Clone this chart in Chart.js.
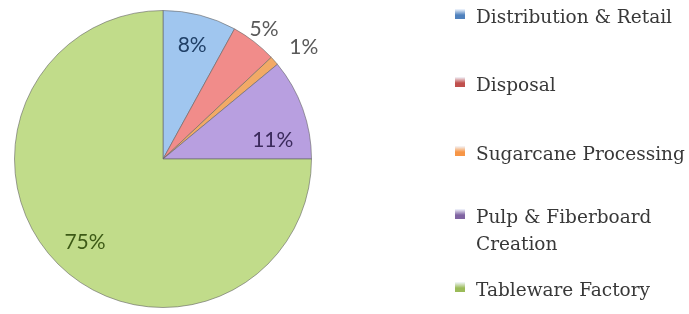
<!DOCTYPE html>
<html><head><meta charset="utf-8">
<script src="https://cdn.jsdelivr.net/npm/chart.js@4"></script>
<style>html,body{margin:0;padding:0;background:#fff}#wrap{width:689px;height:314px;position:relative}</style>
</head><body><div id="wrap"><canvas id="c" width="689" height="314"></canvas></div>
<script>
const categories = ["Distribution & Retail", "Disposal", "Sugarcane Processing", ["Pulp & Fiberboard", "Creation"], "Tableware Factory"];
const values = [8, 5, 1, 11, 75];
const percentLabels = ["8%", "5%", "1%", "11%", "75%"];
const colors = ["#a0c6ef", "#f18c8a", "#f2aa66", "#b89fe0", "#c1dc8a"];
const legendMarks = ["#4f81bd", "#c0504d", "#f79646", "#8064a2", "#9bbb59"];
const labelColors = ["#1f3f66", "#595959", "#595959", "#3b2a5c", "#3d5a16"];
const labelRadius = [0.79, 1.11, 1.21, 0.75, 0.77];
const labelAngleShift = [0, 0, 3, 10, -2];

const labelPlugin = {
  id: 'pctLabels',
  afterDatasetsDraw(chart) {
    const ctx = chart.ctx;
    const meta = chart.getDatasetMeta(0);
    ctx.save();
    ctx.font = '21px Lato';
    ctx.textAlign = 'center';
    ctx.textBaseline = 'middle';
    meta.data.forEach((arc, i) => {
      const mid = (arc.startAngle + arc.endAngle) / 2 + labelAngleShift[i] * Math.PI / 180;
      const r = arc.outerRadius * labelRadius[i];
      ctx.fillStyle = labelColors[i];
      ctx.fillText(percentLabels[i], arc.x + Math.cos(mid) * r, arc.y + Math.sin(mid) * r);
    });
    // legend
    const lx = 455, tx = 476;
    const rows = [18, 86, 155, 218, 291];
    ctx.textAlign = 'left';
    ctx.font = '18.5px "DejaVu Serif"';
    categories.forEach((c, i) => {
      const y = rows[i];
      const g = ctx.createLinearGradient(lx, y - 9, lx, y + 1);
      g.addColorStop(0, '#f4f8ff');
      g.addColorStop(0.6, legendMarks[i]);
      g.addColorStop(1, legendMarks[i]);
      ctx.fillStyle = g;
      ctx.fillRect(lx, y - 9, 10, 10);
      ctx.fillStyle = '#383838';
      const lines = Array.isArray(c) ? c : [c];
      lines.forEach((t, j) => ctx.fillText(t, tx, y + j * 27));
    });
    ctx.restore();
  }
};

new Chart(document.getElementById('c'), {
  type: 'pie',
  data: { labels: categories, datasets: [{ data: values, backgroundColor: colors, borderColor: 'rgba(100,100,100,0.6)', borderWidth: 1 }] },
  options: {
    responsive: false, animation: false,
    layout: { padding: { left: 14, top: 10, right: 377, bottom: 6 } },
    plugins: { legend: { display: false }, tooltip: { enabled: false } }
  },
  plugins: [labelPlugin]
});
</script></body></html>
